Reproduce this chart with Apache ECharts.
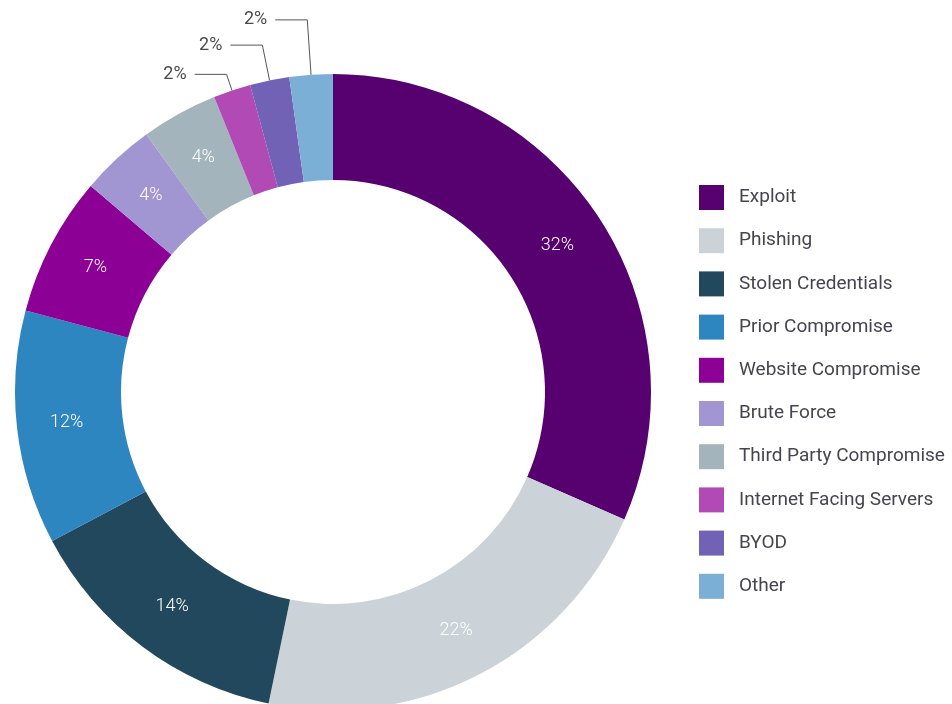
<!DOCTYPE html>
<html>
<head>
<meta charset="utf-8">
<script src="https://cdn.jsdelivr.net/npm/echarts@6/dist/echarts.min.js"></script>
<style>
  html, body { margin: 0; padding: 0; background: #ffffff; }
  #chart { width: 952px; height: 704px; }
</style>
</head>
<body>
<div id="chart"></div>
<script>
// Data (percent of incidents)
const categories = ['Exploit', 'Phishing', 'Stolen Credentials', 'Prior Compromise', 'Website Compromise',
  'Brute Force', 'Third Party Compromise', 'Internet Facing Servers', 'BYOD', 'Other'];
const shares = [31.6, 21.7, 14.0, 11.9, 7.1, 3.8, 3.9, 1.9, 2.0, 2.2];
const colors = ['#570070', '#cbd3d9', '#21485c', '#2e86c1', '#8c0096',
  '#a195d2', '#a3b4bc', '#b14ab4', '#7162b6', '#7bafd6'];

// Small slices labelled outside with a leader line (index -> first segment length)
const outsideLeader = { 7: 17, 8: 36, 9: 55 };

const data = categories.map((name, i) => {
  const item = { name: name, value: shares[i], itemStyle: { color: colors[i] } };
  if (outsideLeader[i] !== undefined) {
    item.label = { position: 'outside', color: '#4a4a4a', fontWeight: 400, distanceToLabelLine: 8 };
    item.labelLine = { show: true, length: outsideLeader[i], length2: 32 };
  }
  return item;
});

const chart = echarts.init(document.getElementById('chart'), null, { renderer: 'canvas' });
chart.setOption({
  animation: false,
  backgroundColor: '#ffffff',
  legend: {
    orient: 'vertical',
    left: 699,
    top: 185,
    padding: 0,
    itemWidth: 25,
    itemHeight: 25,
    itemGap: 18.2,
    icon: 'rect',
    selectedMode: false,
    textStyle: { fontFamily: 'Roboto', fontSize: 19, color: '#45454f', padding: [0, 0, 0, 10] },
    data: categories
  },
  series: [{
    type: 'pie',
    center: [333, 392],
    radius: [212, 318],
    startAngle: 90,
    clockwise: true,
    avoidLabelOverlap: false,
    silent: true,
    emphasis: { disabled: true },
    itemStyle: { borderWidth: 0 },
    label: {
      show: true,
      position: 'inside',
      color: '#ffffff',
      fontFamily: 'Roboto',
      fontSize: 18,
      fontWeight: 300,
      formatter: p => Math.round(p.value) + '%'
    },
    labelLine: {
      show: false,
      lineStyle: { color: '#555555', width: 1 }
    },
    data: data
  }]
});
</script>
</body>
</html>
